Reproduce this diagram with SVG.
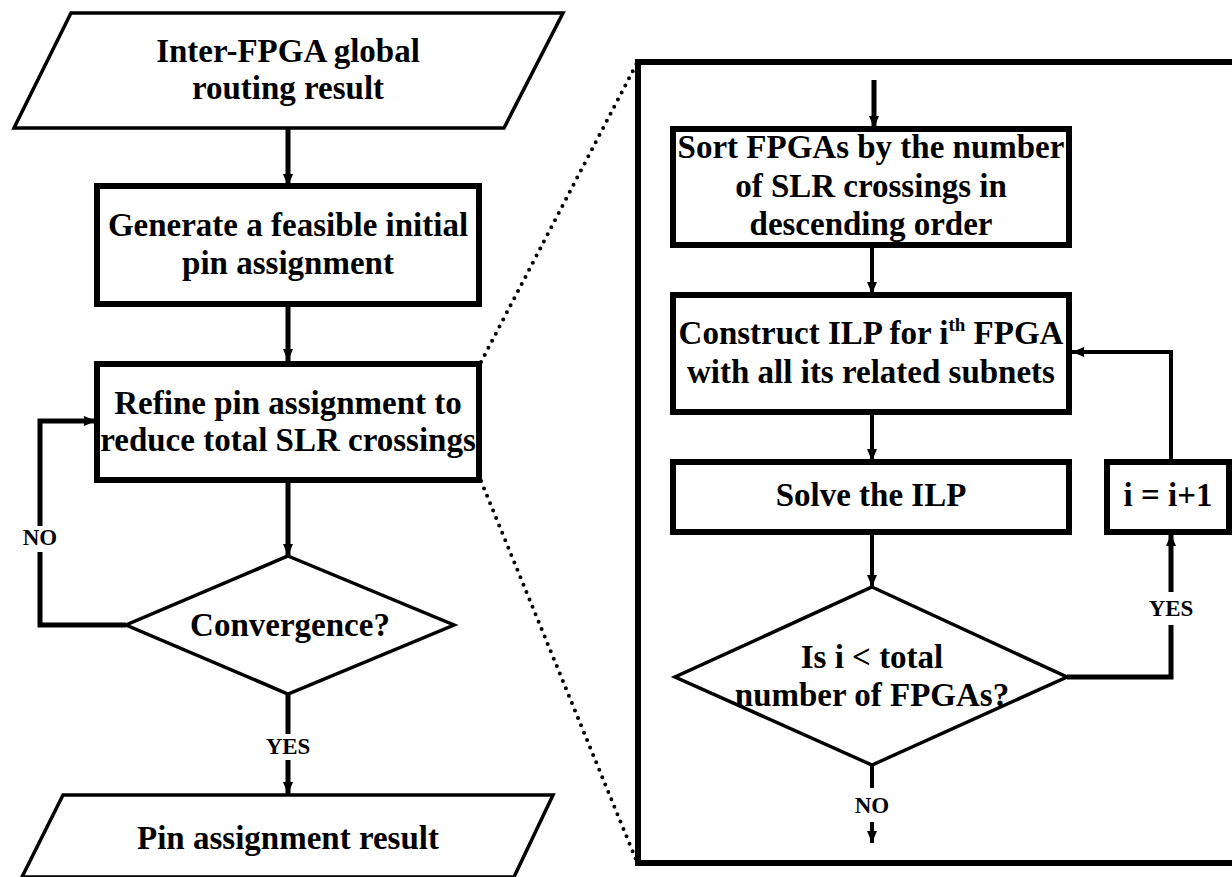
<svg xmlns="http://www.w3.org/2000/svg" width="1232" height="877" viewBox="0 0 1232 877">
<defs>
<style>
.t{font-family:"Liberation Serif","Times New Roman",serif;font-weight:bold;font-size:33px;fill:#000;text-anchor:middle}
.l{font-family:"Liberation Serif","Times New Roman",serif;font-weight:bold;font-size:23px;fill:#000;text-anchor:middle}
.thin{fill:#fff;stroke:#000;stroke-width:3.5;stroke-linejoin:miter}
.box{fill:#fff;stroke:#000;stroke-width:6}
.c{fill:none;stroke:#000;stroke-width:5}
.c4{fill:none;stroke:#000;stroke-width:4}
.dot{fill:none;stroke:#000;stroke-width:4;stroke-dasharray:0 8;stroke-linecap:round}
</style>
<marker id="ah" markerUnits="userSpaceOnUse" markerWidth="12" markerHeight="12" viewBox="0 0 12 12" refX="12" refY="6" orient="auto">
<path d="M0,1 L12,6 L0,11 Z" fill="#000"/>
</marker>
</defs>
<rect width="1232" height="877" fill="#fff"/>
<g id="connectors">
<line class="c" x1="288" y1="128" x2="288" y2="186" marker-end="url(#ah)"/>
<line class="c" x1="288" y1="304" x2="288" y2="361" marker-end="url(#ah)"/>
<line class="c" x1="288" y1="480" x2="288" y2="556" marker-end="url(#ah)"/>
<polyline class="c" points="126,625 40,625 40,552"/>
<polyline class="c" points="40,526 40,421 96,421" marker-end="url(#ah)"/>
<line class="c" x1="288" y1="694" x2="288" y2="734"/>
<line class="c" x1="288" y1="760" x2="288" y2="794" marker-end="url(#ah)"/>
<line class="dot" x1="481" y1="362" x2="637" y2="63"/>
<line class="dot" x1="481" y1="481" x2="637" y2="862"/>
<line class="c" x1="874" y1="80" x2="874" y2="128" marker-end="url(#ah)"/>
<line class="c4" x1="872" y1="247" x2="872" y2="294" marker-end="url(#ah)"/>
<line class="c4" x1="872" y1="414" x2="872" y2="461" marker-end="url(#ah)"/>
<line class="c4" x1="872" y1="534" x2="872" y2="587" marker-end="url(#ah)"/>
<polyline class="c" points="1067,677 1171,677 1171,625"/>
<line class="c" x1="1171" y1="592" x2="1171" y2="534" marker-end="url(#ah)"/>
<polyline class="c4" points="1171,462 1171,352 1072,352" marker-end="url(#ah)"/>
<line class="c4" x1="872" y1="765" x2="872" y2="788"/>
<line class="c4" x1="872" y1="822" x2="872" y2="843" marker-end="url(#ah)"/>
</g>
<g id="panel">
<rect x="638" y="62" width="600" height="801" fill="none" stroke="#000" stroke-width="6"/>
</g>
<g id="n-input">
<polygon class="thin" points="71,13 563,13 504,128 14,128"/>
<text class="t" x="288" y="62">Inter-FPGA global</text>
<text class="t" x="288" y="99">routing result</text>
</g>
<g id="n-generate">
<rect class="box" x="97" y="186" width="382" height="118"/>
<text class="t" x="288" y="236">Generate a feasible initial</text>
<text class="t" x="288" y="274">pin assignment</text>
</g>
<g id="n-refine">
<rect class="box" x="97" y="364" width="382" height="116"/>
<text class="t" x="288" y="414">Refine pin assignment to</text>
<text class="t" x="288" y="451">reduce total SLR crossings</text>
</g>
<g id="n-convergence">
<polygon class="thin" points="288,556 454,625 288,694 126,625"/>
<text class="t" x="290" y="636">Convergence?</text>
</g>
<g id="n-output">
<polygon class="thin" points="63,795 553,795 514,877 22,877"/>
<text class="t" x="288" y="849">Pin assignment result</text>
</g>
<g id="n-sort">
<rect class="box" x="673" y="129" width="396" height="116"/>
<text class="t" x="871" y="158">Sort FPGAs by the number</text>
<text class="t" x="871" y="197">of SLR crossings in</text>
<text class="t" x="871" y="235">descending order</text>
</g>
<g id="n-construct">
<rect class="box" x="673" y="295" width="396" height="117"/>
<text class="t" x="871" y="344">Construct ILP for i<tspan font-size="19" dy="-13">th</tspan><tspan dy="13"> FPGA</tspan></text>
<text class="t" x="871" y="383">with all its related subnets</text>
</g>
<g id="n-solve">
<rect class="box" x="673" y="462" width="396" height="70"/>
<text class="t" x="871" y="506">Solve the ILP</text>
</g>
<g id="n-inc">
<rect class="box" x="1107" y="462" width="122" height="70" stroke-width="5"/>
<text class="t" x="1168" y="506">i = i+1</text>
</g>
<g id="n-check">
<polygon class="thin" points="872,587 1067,677 872,765 675,677"/>
<text class="t" x="872" y="668">Is i &lt; total</text>
<text class="t" x="872" y="706">number of FPGAs?</text>
</g>
<g id="labels">
<text class="l" x="40" y="545">NO</text>
<text class="l" x="288" y="754">YES</text>
<text class="l" x="1171" y="616">YES</text>
<text class="l" x="872" y="813">NO</text>
</g>
</svg>
